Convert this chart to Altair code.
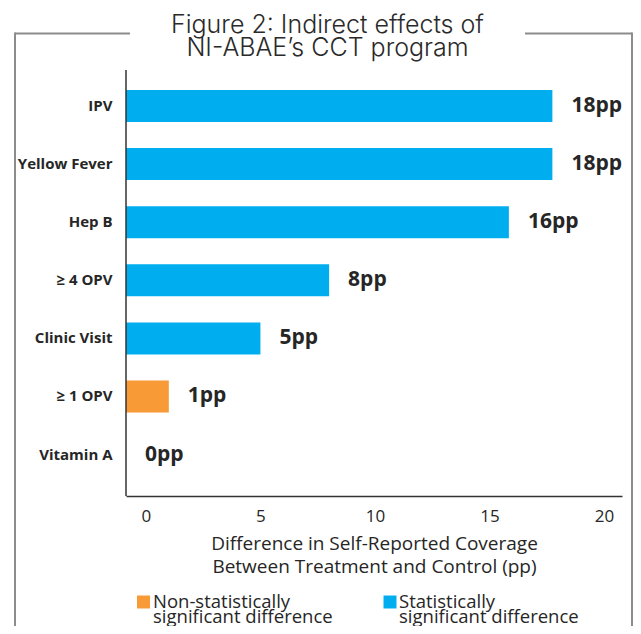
import altair as alt
import pandas as pd

# ---- data ----
CATEGORIES = ["IPV", "Yellow Fever", "Hep B", "≥ 4 OPV", "Clinic Visit", "≥ 1 OPV", "Vitamin A"]
VALUES = [17.75, 17.75, 15.85, 8.0, 5.0, 1.0, 0.0]
VALUE_LABELS = ["18pp", "18pp", "16pp", "8pp", "5pp", "1pp", "0pp"]
GROUPS = ["Statistically significant difference"] * 5 + ["Non-statistically significant difference"] * 2
GROUP_ORDER = ["Non-statistically significant difference", "Statistically significant difference"]
GROUP_COLORS = ["#f89a35", "#00aeef"]
LEGEND_TEXT = ["Non-statistically\nsignificant difference", "Statistically\nsignificant difference"]
X_TICKS = [0, 5, 10, 15, 20]
TITLE = "Figure 2: Indirect effects of\nNI-ABAE\u2019s CCT program"
X_TITLE = ["Difference in Self-Reported Coverage", "Between Treatment and Control (pp)"]

X_MIN, X_MAX = -0.87, 20.79
TEXT = "#262626"
FRAME = "#8c8c8c"
FONT = "Open Sans"

df = pd.DataFrame({
    "category": CATEGORIES,
    "value": VALUES,
    "label": VALUE_LABELS,
    "group": GROUPS,
})

W, H = 496, 426

xscale = alt.Scale(domain=[X_MIN, X_MAX], nice=False, zero=False)
yscale = alt.Scale(domain=CATEGORIES, range=[20, 400.6], paddingInner=0.449, paddingOuter=0)

base = alt.Chart(df).transform_calculate(
    bar_end=f"datum.value > 0 ? datum.value : {X_MIN}",
    bar_start=f"{X_MIN}",
)

bars = base.transform_filter("datum.value > 0").mark_bar(stroke=None).encode(
    y=alt.Y("category:N", scale=yscale, sort=CATEGORIES,
            axis=alt.Axis(title=None, ticks=False, tickSize=0, domain=False,
                          labelFont=FONT, labelFontWeight="bold", labelFontSize=15,
                          labelColor=TEXT, labelPadding=14, labelLimit=200)),
    x=alt.X("bar_end:Q", scale=xscale,
            axis=alt.Axis(values=X_TICKS, grid=False, ticks=False, tickSize=0,
                          domainColor="#333333", domainWidth=1.5,
                          labelFont=FONT, labelFontSize=17, labelColor=TEXT,
                          labelPadding=12, title=X_TITLE, titleFont=FONT,
                          titleFontSize=19, titleFontWeight="normal",
                          titleColor=TEXT, titleLineHeight=23, titlePadding=10)),
    x2="bar_start:Q",
    color=alt.Color("group:N", scale=alt.Scale(domain=GROUP_ORDER, range=GROUP_COLORS), legend=None),
)

labels = base.mark_text(align="left", baseline="middle", dx=19, font=FONT,
                        fontWeight="bold", fontSize=21, color=TEXT).encode(
    y=alt.Y("category:N", scale=yscale, sort=CATEGORIES),
    x=alt.X("bar_end:Q", scale=xscale),
    text="label:N",
)

one = pd.DataFrame({"k": [0]})
deco = alt.Chart(one)

# y-axis line spans the whole plot height
yline = deco.mark_rule(color="#333333", strokeWidth=1.5).encode(
    x=alt.value(0), y=alt.value(0), y2=alt.value(H))

frame = [
    deco.mark_rule(color=FRAME, strokeWidth=2).encode(x=alt.value(-111), x2=alt.value(4), y=alt.value(-36.5)),
    deco.mark_rule(color=FRAME, strokeWidth=2).encode(x=alt.value(399), x2=alt.value(506), y=alt.value(-36.5)),
    deco.mark_rule(color=FRAME, strokeWidth=2).encode(x=alt.value(-111), y=alt.value(-37.5), y2=alt.value(600)),
    deco.mark_rule(color=FRAME, strokeWidth=2).encode(x=alt.value(506), y=alt.value(-37.5), y2=alt.value(600)),
]

title = alt.Chart(pd.DataFrame({"t": [TITLE]})).mark_text(
    align="center", baseline="alphabetic", lineBreak="\n", lineHeight=23.5,
    font="Inter", fontSize=25, fontWeight=300, color="#2a2a2a",
).encode(x=alt.value(201.5), y=alt.value(-37.5), text="t:N")

legend_layers = []
legend_pos = [(17.5, 27), (264, 273)]
for (sq_x, tx_x), txt, col in zip(legend_pos, LEGEND_TEXT, GROUP_COLORS):
    legend_layers.append(
        deco.mark_square(size=169, color=col, opacity=1).encode(x=alt.value(sq_x), y=alt.value(532))
    )
    legend_layers.append(
        alt.Chart(pd.DataFrame({"t": [txt]})).mark_text(
            align="left", baseline="alphabetic", lineBreak="\n", lineHeight=15,
            font=FONT, fontSize=18.5, color=TEXT,
        ).encode(x=alt.value(tx_x), y=alt.value(537.5), text="t:N")
    )

chart = alt.layer(bars, labels, yline, *frame, title, *legend_layers).properties(
    width=W, height=H,
    autosize=alt.AutoSizeParams(type="none"),
    padding={"left": 118, "top": 62, "right": 11, "bottom": 130},
    background="white",
).configure_view(stroke=None)

chart.save("out.html", embed_options={"renderer": "svg", "actions": False})
